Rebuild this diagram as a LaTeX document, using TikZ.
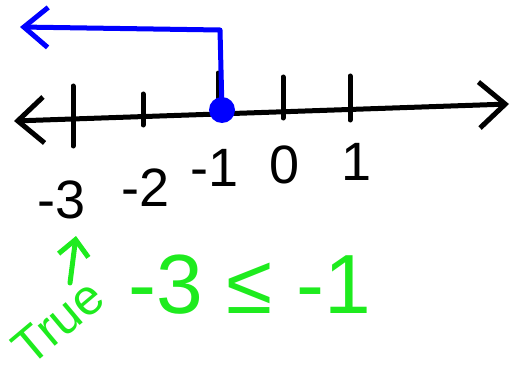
\documentclass[tikz,border=0pt]{standalone}
\usepackage{fontspec}
\setmainfont{Liberation Sans}
\usetikzlibrary{arrows.meta}
\definecolor{pengreen}{RGB}{30,235,30}
\tikzset{
	pen/.style = {line width = 5pt, line cap = round, line join = round},
	handtip/.tip = {Straight Barb[length = 26pt, width = 46pt, line width = 5pt]},
	numlbl/.style = {font = \fontsize{54}{54}\selectfont, inner sep = 0pt},
}
\begin{document}
\begin{tikzpicture}[x = 1pt, y = -1pt]
	\useasboundingbox (0,0) rectangle (516,385);
	% number line
	\coordinate (lend) at (14,121);
	\coordinate (rend) at (509,104);
	\draw [pen, handtip-handtip] (lend) -- (rend);
	\foreach \x/\top/\bot in {73/86/146, 143/94/125, 218/73/104, 283/77/118, 350/76/120}
		\draw [pen] (\x,\top) -- (\x,\bot);
	\node [circle, fill = blue, minimum size = 26pt, inner sep = 0pt] (dot) at (222,110) {};
	% the ray
	\coordinate (corner) at (220,30);
	\coordinate (rayend) at (20,27);
	\draw [pen, blue, -{Straight Barb[length = 24pt, width = 40pt, line width = 5pt]}] (dot.center) -- (corner) -- (rayend);
	% labels
	\node [numlbl] (m3) at (62,200) {-3};
	\node [numlbl] (m2) at (146,188) {-2};
	\node [numlbl] (m1) at (215,168) {-1};
	\node [numlbl] (zero) at (285,165) {0};
	\node [numlbl] (one) at (357,162) {1};
	% green part
	\node [pengreen, font = \fontsize{84}{84}\selectfont, inner sep = 0pt] (ineq) at (250,285) {-3 ≤ -1};
	\node [pengreen, font = \fontsize{50}{50}\selectfont, rotate = 40, inner sep = 0pt] (truelbl) at (58,322) {True};
	\coordinate (ptail) at (70,283);
	\draw [pen, pengreen, -{Straight Barb[length = 16pt, width = 30pt, line width = 5pt]}] (ptail) -- (76,236);
\end{tikzpicture}
\end{document}
